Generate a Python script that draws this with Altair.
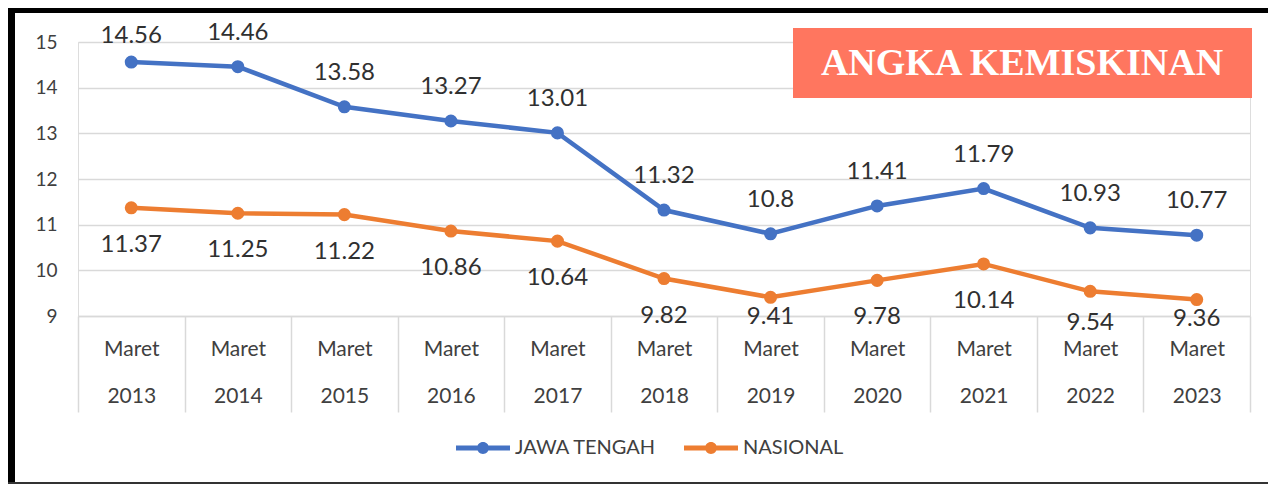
import altair as alt
import pandas as pd

# ---- data ----
periods = ["Maret 2013", "Maret 2014", "Maret 2015", "Maret 2016", "Maret 2017",
           "Maret 2018", "Maret 2019", "Maret 2020", "Maret 2021", "Maret 2022", "Maret 2023"]
jawa_tengah = [14.56, 14.46, 13.58, 13.27, 13.01, 11.32, 10.80, 11.41, 11.79, 10.93, 10.77]
nasional = [11.37, 11.25, 11.22, 10.86, 10.64, 9.82, 9.41, 9.78, 10.14, 9.54, 9.36]
series_names = ["JAWA TENGAH", "NASIONAL"]
y_ticks = [9, 10, 11, 12, 13, 14, 15]
title_text = "ANGKA KEMISKINAN"

# ---- style: label offsets (pixels) per series, with a few hand-placed exceptions ----
base_dy = {"JAWA TENGAH": -34, "NASIONAL": 37}
dy_override = {
    ("JAWA TENGAH", "Maret 2013"): -26,
    ("NASIONAL", "Maret 2019"): 20,
    ("NASIONAL", "Maret 2022"): 32,
    ("NASIONAL", "Maret 2023"): 19,
}

rows = []
for name, vals in zip(series_names, [jawa_tengah, nasional]):
    for p, v in zip(periods, vals):
        rows.append({"period": p, "series": name, "value": v, "label": f"{v:g}",
                     "dy": dy_override.get((name, p), base_dy[name])})
df = pd.DataFrame(rows)

BLUE = "#4472C4"
ORANGE = "#ED7D31"
GRID = "#D9D9D9"
TXT = "#404040"
FONT = "Lato"
W, H = 1172, 274

x = alt.X("period:N", sort=periods,
          scale=alt.Scale(paddingInner=0, paddingOuter=0),
          axis=alt.Axis(title=None, labelAngle=0, labelExpr="split(datum.label, ' ')",
                        labelLineHeight=47, labelPadding=-74, labelBaseline="top",
                        tickBand="extent", tickSize=96, tickColor=GRID, tickWidth=1.5,
                        domainColor=GRID, domainWidth=1.5,
                        labelFont=FONT, labelFontSize=21, labelColor=TXT))
y = alt.Y("value:Q",
          scale=alt.Scale(domain=[9, 15], nice=False, zero=False),
          axis=alt.Axis(title=None, values=y_ticks, domain=False, ticks=False,
                        gridColor=GRID, gridWidth=1.5, labelPadding=21,
                        labelFont=FONT, labelFontSize=19, labelColor=TXT))

base = alt.Chart(df)

legend_path = ("M-1,-0.09 L1,-0.09 L1,0.09 L-1,0.09 Z "
               "M-0.22,0 A0.22,0.22 0 1,1 0.22,0 A0.22,0.22 0 1,1 -0.22,0 Z")

lines = base.mark_line(strokeWidth=4.5).encode(
    x=x, y=y,
    color=alt.Color("series:N", sort=series_names,
                    scale=alt.Scale(domain=series_names, range=[BLUE, ORANGE]),
                    legend=alt.Legend(title=None, orient="none", direction="horizontal",
                                      legendX=378, legendY=379,
                                      symbolType=legend_path, symbolSize=2916,
                                      symbolStrokeWidth=0, symbolOpacity=1,
                                      labelFont=FONT, labelFontSize=20, labelColor=TXT,
                                      labelOffset=5, columnPadding=27)),
    detail="series:N",
)
points = base.mark_circle(size=170, opacity=1).encode(
    x=x, y=y, color=alt.Color("series:N", sort=series_names,
                              scale=alt.Scale(domain=series_names, range=[BLUE, ORANGE]),
                              legend=None))

label_layers = []
for d in sorted(set(df["dy"])):
    label_layers.append(
        base.transform_filter(alt.datum.dy == int(d)).mark_text(
            dy=int(d), font=FONT, fontSize=24, color="#303030", baseline="middle"
        ).encode(x=x, y=y, text="label:N")
    )

one = alt.Data(values=[{"k": 1}])
title_box = alt.Chart(one).mark_rect(color="#FF765F").encode(
    x=alt.value(715), x2=alt.value(1174), y=alt.value(-14), y2=alt.value(56))
title_lbl = alt.Chart(one).mark_text(
    text=title_text, font="Liberation Serif", fontWeight="bold", fontSize=38,
    color="white", align="center", baseline="middle").encode(
    x=alt.value(944), y=alt.value(22))

border_top = alt.Chart(one).mark_rect(color="black").encode(
    x=alt.value(-70), x2=alt.value(1190), y=alt.value(-34), y2=alt.value(-29))
border_left = alt.Chart(one).mark_rect(color="black").encode(
    x=alt.value(-70), x2=alt.value(-63), y=alt.value(-34), y2=alt.value(442))
border_bottom = alt.Chart(one).mark_rect(color="#333333").encode(
    x=alt.value(-70), x2=alt.value(1190), y=alt.value(440), y2=alt.value(442))

chart = alt.layer(
    lines, points, *label_layers, title_box, title_lbl,
    border_top, border_left, border_bottom
).properties(
    width=W, height=H,
    autosize=alt.AutoSizeParams(type="none"),
    padding={"left": 70, "top": 34, "right": 18, "bottom": 168},
).configure_view(stroke=None).configure(background="white")

chart.save("out.html", embed_options={"renderer": "svg", "actions": False})
